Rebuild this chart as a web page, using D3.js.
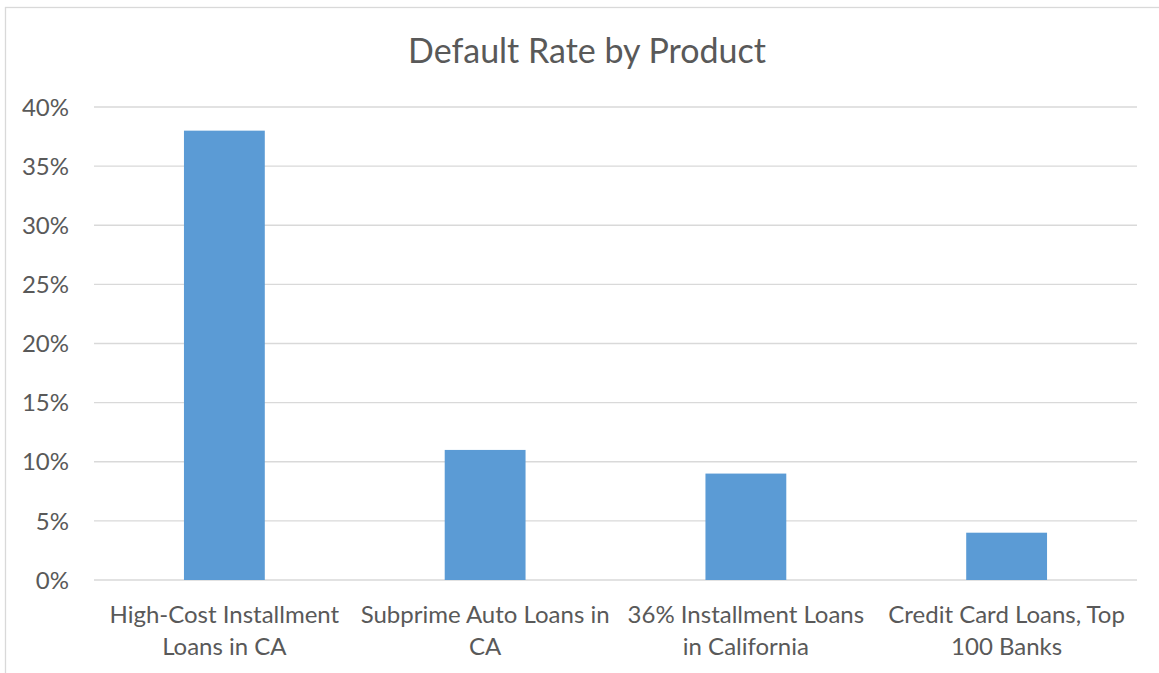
<!DOCTYPE html>
<html>
<head>
<meta charset="utf-8">
<style>
  body { margin: 0; background: #fff; }
  svg { display: block; }
  text { font-family: Lato, "Open Sans", sans-serif; fill: #595959; }
  .grid line { stroke: #d9d9d9; stroke-width: 1.3; }
</style>
</head>
<body>
<script src="https://cdn.jsdelivr.net/npm/d3@7"></script>
<script>
  const categories = [
    ['High-Cost Installment', 'Loans in CA'],
    ['Subprime Auto Loans in', 'CA'],
    ['36% Installment Loans', 'in California'],
    ['Credit Card Loans, Top', '100 Banks']
  ];
  const values = [0.38, 0.11, 0.09, 0.04];
  const yTicks = [0, 0.05, 0.10, 0.15, 0.20, 0.25, 0.30, 0.35, 0.40];
  const title = 'Default Rate by Product';

  const w = 1159, h = 673;
  const l = 94, r = 1137, t = 107, b = 580;

  const svg = d3.select('body').append('svg')
    .attr('width', w)
    .attr('height', h);

  // chart border
  svg.append('rect')
    .attr('x', 5.5).attr('y', 7.5)
    .attr('width', w).attr('height', h)
    .attr('fill', 'none')
    .attr('stroke', '#d9d9d9')
    .attr('stroke-width', 1.3);

  const x = d3.scaleBand()
    .domain(d3.range(categories.length))
    .range([l, r])
    .paddingInner(0.69)
    .paddingOuter(0.345);

  const y = d3.scaleLinear().domain([0, 0.40]).range([b, t]);

  // gridlines
  svg.append('g').attr('class', 'grid')
    .selectAll('line')
    .data(yTicks)
    .join('line')
    .attr('x1', l).attr('x2', r)
    .attr('y1', d => y(d)).attr('y2', d => y(d));

  // y labels
  svg.append('g')
    .selectAll('text')
    .data(yTicks)
    .join('text')
    .attr('x', 69)
    .attr('y', d => y(d))
    .attr('dy', '0.36em')
    .attr('text-anchor', 'end')
    .style('font-size', '24px')
    .text(d => d3.format('.0%')(d));

  // bars
  svg.append('g')
    .selectAll('rect')
    .data(values)
    .join('rect')
    .attr('x', (d, i) => x(i))
    .attr('width', x.bandwidth())
    .attr('y', d => y(d))
    .attr('height', d => y(0) - y(d))
    .attr('fill', '#5b9bd5');

  // category labels
  const cat = svg.append('g')
    .selectAll('text')
    .data(categories)
    .join('text')
    .attr('x', (d, i) => x(i) + x.bandwidth() / 2)
    .attr('y', 623)
    .attr('text-anchor', 'middle')
    .style('font-size', '24px');
  cat.selectAll('tspan')
    .data(d => d)
    .join('tspan')
    .attr('x', function() { return this.parentNode.getAttribute('x'); })
    .attr('dy', (d, i) => i ? 32 : 0)
    .text(d => d);

  // title
  svg.append('text')
    .attr('x', 587)
    .attr('y', 63)
    .attr('text-anchor', 'middle')
    .style('font-size', '34px')
    .text(title);
</script>
</body>
</html>
